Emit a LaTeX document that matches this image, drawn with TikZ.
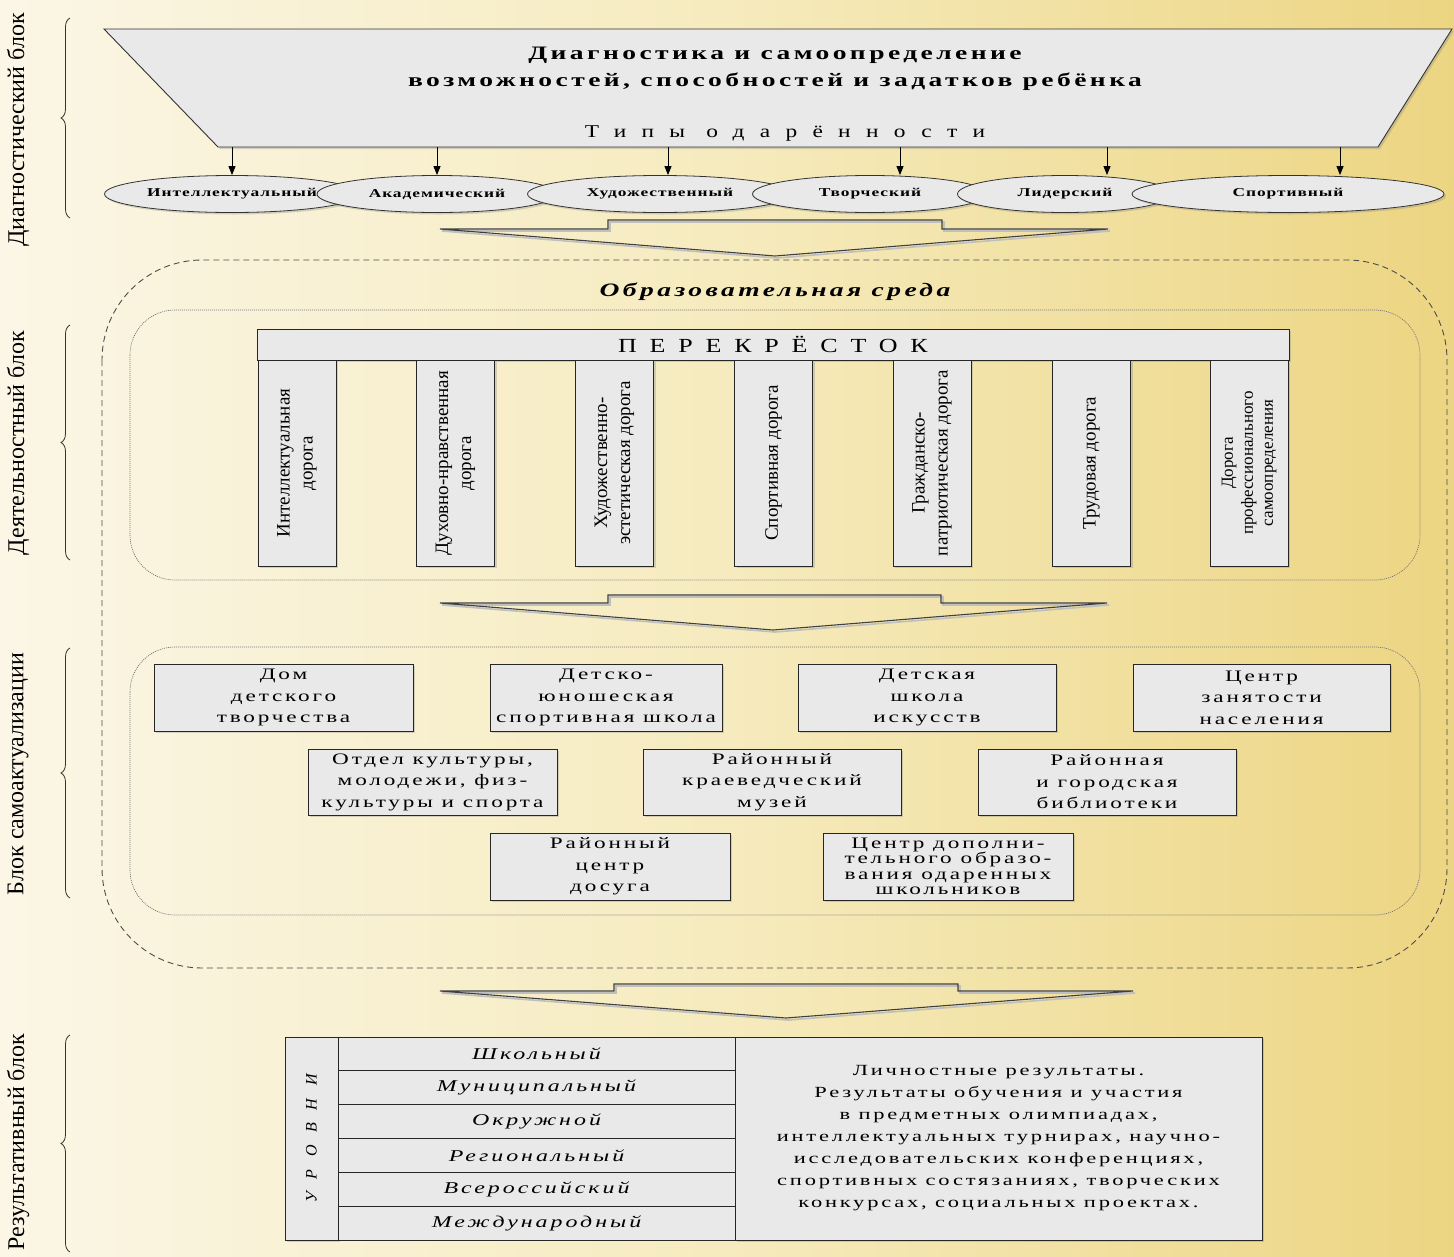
\documentclass[tikz,border=0pt]{standalone}
\usepackage{fontspec}
\setmainfont{Liberation Serif}
\newfontfamily\fWide[FakeStretch=1.45,LetterSpace=18]{Liberation Serif}
\newfontfamily\fEll[FakeStretch=1.45,LetterSpace=8]{Liberation Serif}
\newfontfamily\fSpaced[FakeStretch=1.3,LetterSpace=85]{Liberation Serif}
\newfontfamily\fCaps[FakeStretch=1.3,LetterSpace=64]{Liberation Serif}
\newfontfamily\fUr[LetterSpace=80]{Liberation Serif}
\newfontfamily\fCond{Liberation Serif}
\usetikzlibrary{shapes.geometric,shadows,decorations.pathreplacing,arrows.meta}
\definecolor{bgL}{RGB}{251,246,230}
\definecolor{bgM}{RGB}{246,235,190}
\definecolor{bgR}{RGB}{236,213,130}
\definecolor{boxg}{RGB}{233,233,233}
\begin{document}
\begin{tikzpicture}[x=1pt,y=-1pt,
 shd/.style={drop shadow={shadow xshift=2pt,shadow yshift=-2pt,opacity=0.3}},
 grbox/.style={draw=black!85,fill=boxg,line width=0.8pt,shd,inner sep=0pt,align=center},
 ellnode/.style={ellipse,draw=black!80,fill=boxg,line width=0.8pt,shd,inner sep=0pt,minimum height=37pt,font=\fEll\bfseries\fontsize{12}{14}\selectfont},
 boxtxt/.style={font=\fWide\fontsize{16}{21.5}\selectfont},
 roadtxt/.style={rotate=90,align=center,font=\fCond\fontsize{19}{23}\selectfont},
 sidetxt/.style={rotate=90,font=\fCond\fontsize{24}{26}\selectfont},
 arr/.style={-{Triangle[length=9pt,width=7pt]},line width=0.9pt},
 bigarrow/.style={draw=black!75,line width=1.1pt,line join=miter},
 bigshadow/.style={draw=black!25,line width=1.6pt,line join=miter},
 brc/.style={decorate,decoration={brace,amplitude=9pt},line width=0.8pt,black!80},
]
\shade[left color=bgL,right color=bgR,middle color=bgM] (0,0) rectangle (1454,1256);
\useasboundingbox (0,0) rectangle (1454,1256);

% ---------- side labels and braces ----------
\node[sidetxt] (lb1) at (18,130) {Диагностический блок};
\node[sidetxt] (lb2) at (18,443) {Деятельностный блок};
\node[sidetxt] (lb3) at (18,774) {Блок самоактуализации};
\node[sidetxt] (lb4) at (18,1142) {Результативный блок};
\draw[brc] (70,218) -- (70,18);
\draw[brc] (70,560) -- (70,325);
\draw[brc] (70,898) -- (70,648);
\draw[brc] (70,1252) -- (70,1035);

% ---------- diagnostic block ----------
\filldraw[fill=boxg,draw=black!80,line width=0.9pt,shd] (104,29) -- (1452,29) -- (1378,147) -- (218,147) -- cycle;
\node[font=\fWide\bfseries\fontsize{19}{27}\selectfont,align=center] (title) at (775,69)
  {Диагностика и самоопределение\\возможностей, способностей и задатков ребёнка};
\node[font=\fSpaced\fontsize{18}{20}\selectfont] (types) at (785,134) {Типы одарённости};

\node[ellnode,minimum width=255pt] (e1) at (232,194) {Интеллектуальный};
\node[ellnode,minimum width=240pt] (e2) at (437,194) {Академический};
\node[ellnode,minimum width=265pt] (e3) at (660,194) {Художественный};
\node[ellnode,minimum width=235pt] (e4) at (870,194) {Творческий};
\node[ellnode,minimum width=215pt] (e5) at (1065,194) {Лидерский};
\node[ellnode,minimum width=312pt] (e6) at (1288,194) {Спортивный};

\coordinate (a1) at (232,147);
\coordinate (a2) at (437,147);
\coordinate (a3) at (668,147);
\coordinate (a4) at (900,147);
\coordinate (a5) at (1107,147);
\coordinate (a6) at (1340,147);
\draw[arr] (a1) -- (a1 |- e1.north);
\draw[arr] (a2) -- (a2 |- e2.north);
\draw[arr] (a3) -- (a3 |- e3.north);
\draw[arr] (a4) -- (a4 |- e4.north);
\draw[arr] (a5) -- (a5 |- e5.north);
\draw[arr] (a6) -- (a6 |- e6.north);

% ---------- big arrows ----------
\draw[bigshadow] (442,231) -- (610,231) -- (610,222) -- (944,222) -- (944,231) -- (1110,231) -- (777,258) -- cycle;
\draw[bigarrow] (440,229) -- (608,229) -- (608,220) -- (942,220) -- (942,229) -- (1108,229) -- (775,256) -- cycle;
\draw[bigshadow] (442,605) -- (610,605) -- (610,597) -- (943,597) -- (943,605) -- (1109,605) -- (775,632) -- cycle;
\draw[bigarrow] (440,603) -- (608,603) -- (608,595) -- (941,595) -- (941,603) -- (1107,603) -- (773,630) -- cycle;
\draw[bigshadow] (442,993) -- (616,993) -- (616,986) -- (960,986) -- (960,993) -- (1135,993) -- (788,1020) -- cycle;
\draw[bigarrow] (440,991) -- (614,991) -- (614,984) -- (958,984) -- (958,991) -- (1133,991) -- (786,1018) -- cycle;

% ---------- educational environment ----------
\draw[black!70,line width=0.9pt,dash pattern=on 6pt off 4pt,rounded corners=100pt] (102,260) rectangle (1447,968);
\node[font=\fWide\bfseries\itshape\fontsize{19}{22}\selectfont] (env) at (775,292) {Образовательная среда};

% activity block
\draw[black!55,line width=0.7pt,dash pattern=on 1pt off 1pt,rounded corners=45pt] (130,310) rectangle (1420,580);
\node[grbox,minimum width=1032pt,minimum height=31pt,font=\fCaps\fontsize{20}{22}\selectfont] (cross) at (773,344.5) {ПЕРЕКРЁСТОК};

\node[grbox,minimum width=78pt,minimum height=206pt] (r1) at (297,463) {};
\node[grbox,minimum width=78pt,minimum height=206pt] (r2) at (455.5,463) {};
\node[grbox,minimum width=78pt,minimum height=206pt] (r3) at (614.5,463) {};
\node[grbox,minimum width=78pt,minimum height=206pt] (r4) at (773.5,463) {};
\node[grbox,minimum width=78pt,minimum height=206pt] (r5) at (932,463) {};
\node[grbox,minimum width=78pt,minimum height=206pt] (r6) at (1091.5,463) {};
\node[grbox,minimum width=78pt,minimum height=206pt] (r7) at (1249,463) {};
\node[roadtxt] (t1) at (r1.center) {Интеллектуальная\\дорога};
\node[roadtxt] (t2) at (r2.center) {Духовно-нравственная\\дорога};
\node[roadtxt] (t3) at (r3.center) {Художественно-\\эстетическая дорога};
\node[roadtxt] (t4) at (r4.center) {Спортивная дорога};
\node[roadtxt] (t5) at (r5.center) {Гражданско-\\патриотическая дорога};
\node[roadtxt] (t6) at (r6.center) {Трудовая дорога};
\node[roadtxt,font=\fCond\fontsize{17}{20}\selectfont] (t7) at (r7.center) {Дорога\\профессионального\\самоопределения};

% self-actualisation block
\draw[black!55,line width=0.7pt,dash pattern=on 1pt off 1pt,rounded corners=45pt] (130,647) rectangle (1420,915);
\node[grbox,boxtxt,minimum width=259pt,minimum height=67pt] (b1) at (283.5,697.5) {Дом\\детского\\творчества};
\node[grbox,boxtxt,minimum width=232pt,minimum height=67pt] (b2) at (606,697.5) {Детско-\\юношеская\\спортивная школа};
\node[grbox,boxtxt,minimum width=258pt,minimum height=67pt] (b3) at (927,697.5) {Детская\\школа\\искусств};
\node[grbox,boxtxt,minimum width=257pt,minimum height=67pt] (b4) at (1261.5,697.5) {Центр\\занятости\\населения};
\node[grbox,boxtxt,minimum width=249pt,minimum height=66pt] (b5) at (432.5,782) {Отдел культуры,\\молодежи, физ-\\культуры и спорта};
\node[grbox,boxtxt,minimum width=258pt,minimum height=66pt] (b6) at (772,782) {Районный\\краеведческий\\музей};
\node[grbox,boxtxt,minimum width=258pt,minimum height=66pt] (b7) at (1107,782) {Районная\\и городская\\библиотеки};
\node[grbox,boxtxt,minimum width=240pt,minimum height=67pt] (b8) at (610,866.5) {Районный\\центр\\досуга};
\node[grbox,font=\fWide\fontsize{16}{15.5}\selectfont,minimum width=250pt,minimum height=67pt] (b9) at (948,866.5) {Центр дополни-\\тельного образо-\\вания одаренных\\школьников};

% ---------- results table ----------
\node[grbox,minimum width=53pt,minimum height=203pt] (lev) at (311.5,1138.5) {};
\node[rotate=90,font=\fUr\itshape\fontsize{16}{18}\selectfont] (levt) at (lev.center) {УРОВНИ};
\begin{scope}[every node/.style={draw=black!85,fill=boxg,line width=0.8pt,inner sep=0pt,minimum width=397pt,minimum height=33.83pt,font=\fWide\itshape\fontsize{16.5}{18}\selectfont}]
\node (l1) at (536.5,1053.9) {Школьный};
\node (l2) at (536.5,1087.7) {Муниципальный};
\node (l3) at (536.5,1121.6) {Окружной};
\node (l4) at (536.5,1155.4) {Региональный};
\node (l5) at (536.5,1189.2) {Всероссийский};
\node (l6) at (536.5,1223.1) {Международный};
\end{scope}
\node[grbox,minimum width=527pt,minimum height=203pt,font=\fWide\fontsize{15.5}{22}\selectfont] (res) at (998.5,1138.5)
  {Личностные результаты.\\Результаты обучения и участия\\в предметных олимпиадах,\\интеллектуальных турнирах, научно-\\исследовательских конференциях,\\спортивных состязаниях, творческих\\конкурсах, социальных проектах.};
\end{tikzpicture}
\end{document}
